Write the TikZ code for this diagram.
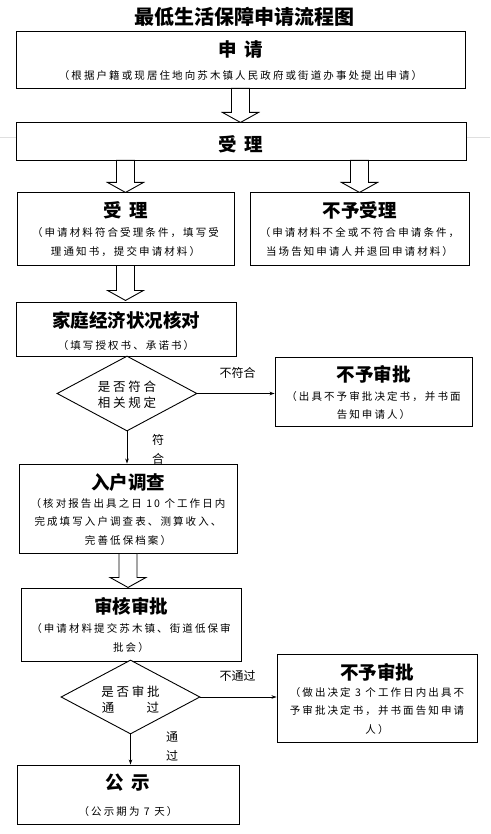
\documentclass[tikz,border=0pt]{standalone}
\usepackage{fontspec}
\usetikzlibrary{shapes.geometric,arrows.meta}
\newfontfamily\cjk{Noto Sans CJK SC}
\newfontfamily\cjksp[LetterSpace=20]{Noto Sans CJK SC}
\newfontfamily\cjkspa[LetterSpace=20]{Noto Sans CJK SC}
\newfontfamily\cjkdm[LetterSpace=22]{Noto Sans CJK SC}
\tikzset{
  box/.style={draw, line width=0.9pt, fill=white, inner sep=0pt, anchor=center},
  head/.style={font=\cjk\bfseries\fontsize{18.5}{20}\selectfont, inner sep=0pt},
  sub/.style={font=\cjksp\fontsize{10.5}{18.5}\selectfont, align=center, inner sep=0pt},
  subwide/.style={font=\cjkspa\fontsize{10.5}{18.5}\selectfont, align=center, inner sep=0pt},
  dtext/.style={font=\cjkdm\fontsize{12.5}{16}\selectfont, align=center, inner sep=0pt},
  lab/.style={font=\cjk\fontsize{12}{19}\selectfont, align=center, inner sep=0pt},
  dia/.style={diamond, draw, line width=0.9pt, fill=white, aspect=1.87, inner sep=0pt},
  conn/.style={line width=0.8pt, -{Stealth[length=5pt,width=3.5pt]}},
  barrow/.pic={\draw[fill=white, line width=0.9pt] (-9,0) -- (9,0) -- (9,#1-10) -- (18,#1-10) -- (0,#1) -- (-18,#1-10) -- (-9,#1-10) -- cycle;}
}
\begin{document}
\begin{tikzpicture}[x=1pt,y=-1pt]
\useasboundingbox (0,0) rectangle (490,834);
\draw[gray!25, line width=0.8pt] (0,137) -- (490,137);

\node[font=\cjk\bfseries\fontsize{20}{22}\selectfont, inner sep=0pt] (title) at (244.5,17) {最低生活保障申请流程图};

% box 1
\node[box, minimum width=449, minimum height=57] (b1) at (240.5,59.5) {};
\node[head] (b1h) at (240.5,49) {申\hspace{0.4em}请};
\node[subwide] (b1s) at (240.5,76) {（根据户籍或现居住地向苏木镇人民政府或街道办事处提出申请）};

% box 2
\node[box, minimum width=450, minimum height=38] (b2) at (241,141) {};
\node[head] (b2h) at (241,144) {受\hspace{0.4em}理};

% left / right
\node[box, minimum width=217, minimum height=73] (bl) at (125.5,228.5) {};
\node[head] (blh) at (125.5,210) {受\hspace{0.4em}理};
\node[sub] (bls) at (125.5,242) {（申请材料符合受理条件，填写受\\理通知书，提交申请材料）};

\node[box, minimum width=219, minimum height=73] (br) at (359.5,228.5) {};
\node[head] (brh) at (359.5,210) {不予受理};
\node[sub] (brs) at (359.5,242) {（申请材料不全或不符合申请条件，\\当场告知申请人并退回申请材料）};

% family check
\node[box, minimum width=220, minimum height=54] (bh) at (126,329) {};
\node[head] (bhh) at (126,320) {家庭经济状况核对};
\node[sub] (bhs) at (126,346) {（填写授权书、承诺书）};

\node[dia, minimum width=140, minimum height=75] (d1) at (127,393.5) {};
\node[dtext] (d1t) at (127,395) {是否符合\\相关规定};

\node[box, minimum width=197, minimum height=69] (n1) at (373.5,391.5) {};
\node[head] (n1h) at (373.5,374) {不予审批};
\node[sub] (n1s) at (373.5,405.5) {（出具不予审批决定书，并书面\\告知申请人）};

% household survey
\node[box, minimum width=218, minimum height=89] (bi) at (128,508.5) {};
\node[head] (bih) at (128,482) {入户调查};
\node[sub] (bis) at (128,522) {（核对报告出具之日 10 个工作日内\\完成填写入户调查表、测算收入、\\完善低保档案）};

% review
\node[box, minimum width=220, minimum height=73] (bs) at (131,624.5) {};
\node[head] (bsh) at (131,606) {审核审批};
\node[sub] (bss) at (131,638) {（申请材料提交苏木镇、街道低保审\\批会）};

\node[dia, minimum width=139, minimum height=74] (d2) at (130.5,697) {};
\node[dtext] (d2t) at (130.5,700) {是否审批\\通\hspace{2.6em}过};

\node[box, minimum width=200, minimum height=88] (n2) at (377,698) {};
\node[head] (n2h) at (377,672) {不予审批};
\node[sub] (n2s) at (377,711) {（做出决定 3 个工作日内出具不\\予审批决定书，并书面告知申请\\人）};

% publicity
\node[box, minimum width=222, minimum height=59] (bg) at (128,794.5) {};
\node[head] (bgh) at (128,783) {公\hspace{0.4em}示};
\node[sub] (bgs) at (128,811) {（公示期为 7 天）};

% block arrows
\pic at (b1.south) {barrow=34};
\pic at (b2.south -| bl.north) {barrow=32};
\pic at (b2.south -| br.north) {barrow=32};
\pic at (bl.south) {barrow=35};
\pic at (bi.south) {barrow=34};

% connectors
\draw[conn] (d1.east) -- (d1.east -| n1.west);
\draw[conn] (d1.south) -- (d1.south |- bi.north);
\draw[conn] (d2.east) -- (d2.east -| n2.west);
\draw[conn] (d2.south) -- (d2.south |- bg.north);

% labels
\node[lab] (l1) at (237.5,373) {不符合};
\node[lab] (l2) at (158,449.5) {符\\合};
\node[lab] (l3) at (237.5,676) {不通过};
\node[lab] (l4) at (172,746.5) {通\\过};
\end{tikzpicture}
\end{document}
